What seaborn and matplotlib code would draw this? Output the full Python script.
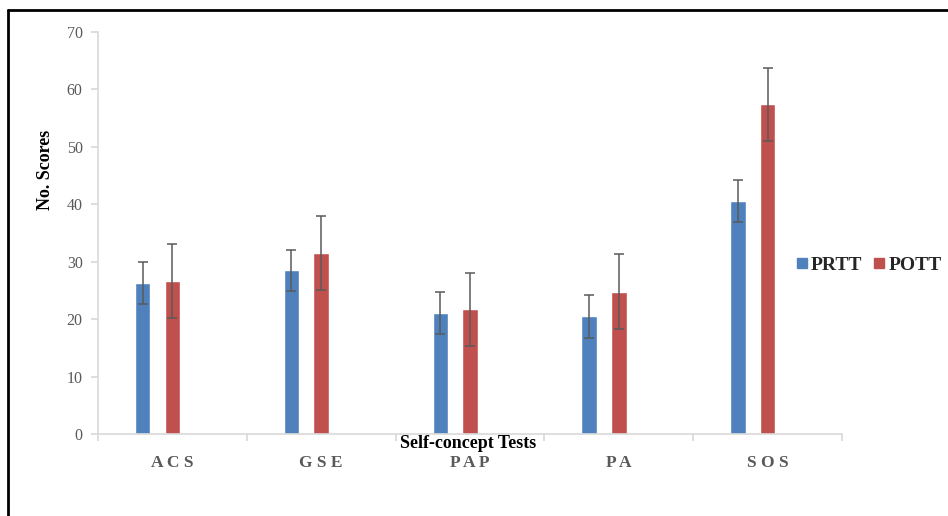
import matplotlib
matplotlib.use("Agg")
import matplotlib.pyplot as plt
from matplotlib.lines import Line2D
import seaborn as sns
import pandas as pd
import numpy as np

categories = ["ACS", "GSE", "PAP", "PA", "SOS"]
prtt = [26.3, 28.5, 21.1, 20.5, 40.6]
pott = [26.6, 31.5, 21.7, 24.8, 57.4]
prtt_err = [3.6, 3.6, 3.7, 3.7, 3.7]
pott_err = [6.4, 6.4, 6.4, 6.5, 6.4]
series = ["PRTT", "POTT"]
colors = {"PRTT": "#4F81BD", "POTT": "#C0504D", "Blank": "#FFFFFF"}
yticks = [0, 10, 20, 30, 40, 50, 60, 70]

df = pd.DataFrame({
    "test": categories * 2,
    "series": ["PRTT"] * 5 + ["POTT"] * 5,
    "score": prtt + pott,
})

sns.set_theme(style="white")
plt.rcParams["font.family"] = ["Liberation Serif", "DejaVu Serif"]

fig = plt.figure(figsize=(9.48, 5.16), dpi=100)
ax = fig.add_axes([0.1034, 0.1589, 0.7848, 0.7791])

sns.barplot(data=df, x="test", y="score", hue="series",
            hue_order=["PRTT", "POTT", "Blank"], order=categories,
            palette=colors, width=0.6, gap=0.48, errorbar=None,
            legend=False, ax=ax, saturation=1)

for cont, err in zip(ax.containers[:2], [prtt_err, pott_err]):
    xs = [p.get_x() + p.get_width() / 2 for p in cont.patches]
    hs = [p.get_height() for p in cont.patches]
    ax.errorbar(xs, hs, yerr=err, fmt="none", ecolor="#5a5a5a",
                elinewidth=1.1, capsize=3.6, capthick=1.1, zorder=5)

ax.set_xlim(-0.5, 4.5)
ax.set_ylim(0, 70)
ax.set_yticks(yticks)
ax.set_yticklabels([str(v) for v in yticks], color="#595959", fontsize=11.5)

ax.set_xticks(np.arange(-0.5, 5.0, 1.0))
ax.set_xticklabels([""] * 6)
ax.set_xticks(np.arange(5), minor=True)
ax.set_xticklabels([" ".join(c) for c in categories], minor=True,
                   color="#595959", fontsize=12.5, fontweight="bold")
ax.tick_params(axis="x", which="major", length=5, color="#d9d9d9", direction="out", bottom=True)
ax.tick_params(axis="x", which="minor", length=0, pad=15, bottom=True)
ax.tick_params(axis="y", length=5, color="#d9d9d9", direction="out", left=True, pad=6)

for s in ["top", "right"]:
    ax.spines[s].set_visible(False)
for s in ["left", "bottom"]:
    ax.spines[s].set_color("#d9d9d9")
    ax.spines[s].set_linewidth(1.2)

ax.set_xlabel("Self-concept Tests", fontsize=13, fontweight="bold", color="black", va="center")
ax.xaxis.set_label_coords(0.497, -0.024)
ax.set_ylabel("No. Scores", fontsize=13, fontweight="bold", color="black", va="center")
ax.yaxis.set_label_coords(-0.071, 0.657)

handles = [Line2D([0], [0], marker="s", linestyle="", markersize=7,
                  markerfacecolor=colors[s], markeredgecolor=colors[s]) for s in series]
fig.legend(handles, series, loc="center left", bbox_to_anchor=(796 / 948, 1 - 265 / 516),
           ncol=2, frameon=False, handletextpad=0.15, columnspacing=0.6,
           handlelength=0.6, borderpad=0, borderaxespad=0,
           prop={"family": "Liberation Serif", "weight": "bold", "size": 14})

fig.add_artist(Line2D([8 / 948, 8 / 948], [0, 1 - 10 / 516], transform=fig.transFigure,
                      color="black", linewidth=2))
fig.add_artist(Line2D([8 / 948, 1], [1 - 10 / 516, 1 - 10 / 516], transform=fig.transFigure,
                      color="black", linewidth=2))

fig.savefig("out.png", dpi=100)
